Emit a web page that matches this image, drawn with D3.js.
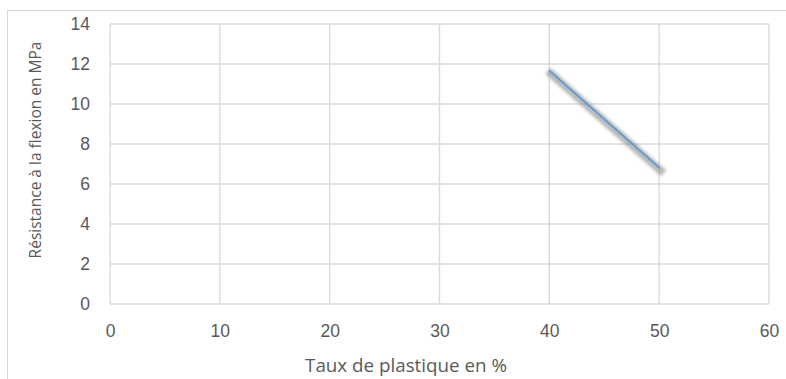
<!DOCTYPE html>
<html>
<head>
<meta charset="utf-8">
<script src="https://cdn.jsdelivr.net/npm/d3@7"></script>
<style>
  html, body { margin: 0; padding: 0; background: #fff; }
  svg { display: block; font-family: "Open Sans", sans-serif; }
</style>
</head>
<body>
<svg id="chart" width="786" height="379"></svg>
<script>
// Flexural strength against plastic content
const plasticRate = [40, 50];
const flexStrength = [11.67, 6.82];
const xTicks = [0, 10, 20, 30, 40, 50, 60];
const yTicks = [0, 2, 4, 6, 8, 10, 12, 14];
const xTitle = "Taux de plastique en %";
const yTitle = "Résistance à la flexion en MPa";

const svg = d3.select("#chart");
const plot = { left: 110, top: 24, right: 769, bottom: 304 };

const x = d3.scaleLinear().domain([0, 60]).range([plot.left, plot.right]);
const y = d3.scaleLinear().domain([0, 14]).range([plot.bottom, plot.top]);

// chart frame
svg.append("rect")
  .attr("x", 7.5).attr("y", 10.5)
  .attr("width", 790).attr("height", 400)
  .attr("fill", "none").attr("stroke", "#d9d9d9").attr("stroke-width", 1);

// gridlines
const grid = svg.append("g").attr("stroke", "#d9d9d9").attr("stroke-width", 1.3);
grid.selectAll(".gy").data(yTicks).join("line")
  .attr("x1", plot.left).attr("x2", plot.right)
  .attr("y1", d => y(d)).attr("y2", d => y(d));
grid.selectAll(".gx").data(xTicks).join("line")
  .attr("y1", plot.top).attr("y2", plot.bottom)
  .attr("x1", d => x(d)).attr("x2", d => x(d));

// tick labels
const xAxis = d3.axisBottom(x).tickValues(xTicks).tickSize(0).tickPadding(21);
const gx = svg.append("g").attr("transform", `translate(0,${plot.bottom})`).call(xAxis);
gx.select(".domain").remove();
gx.selectAll("text").attr("fill", "#595959").attr("font-size", 17.5).attr("font-family", "inherit");

const yAxis = d3.axisLeft(y).tickValues(yTicks).tickSize(0).tickPadding(20);
const gy = svg.append("g").attr("transform", `translate(${plot.left},0)`).call(yAxis);
gy.select(".domain").remove();
gy.selectAll("text").attr("fill", "#595959").attr("font-size", 17.5).attr("font-family", "inherit");

// axis titles
svg.append("text")
  .attr("x", 406).attr("y", 372)
  .attr("text-anchor", "middle").attr("fill", "#595959").attr("font-size", 18.8)
  .text(xTitle);
svg.append("text")
  .attr("transform", `translate(41,150) rotate(-90)`)
  .attr("text-anchor", "middle").attr("fill", "#595959").attr("font-size", 15.5)
  .text(yTitle);

// series with soft drop shadow
const defs = svg.append("defs");
defs.append("filter").attr("id", "soft")
  .attr("x", "-20%").attr("y", "-20%").attr("width", "140%").attr("height", "140%")
  .append("feGaussianBlur").attr("stdDeviation", 1.8);

const pts = plasticRate.map((v, i) => [v, flexStrength[i]]);
const line = d3.line().x(d => x(d[0])).y(d => y(d[1]));

svg.append("path").datum(pts)
  .attr("d", line)
  .attr("transform", "translate(1.5,3)")
  .attr("fill", "none").attr("stroke", "#8a8a8a").attr("stroke-opacity", 0.6)
  .attr("stroke-width", 8).attr("stroke-linecap", "square")
  .attr("filter", "url(#soft)");

svg.append("path").datum(pts)
  .attr("d", line)
  .attr("fill", "none").attr("stroke", "#5b9bd5").attr("stroke-width", 1.8)
  .attr("stroke-linecap", "round");
</script>
</body>
</html>
